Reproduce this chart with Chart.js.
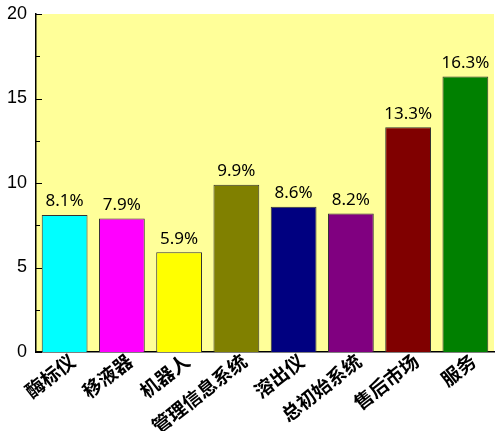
<!DOCTYPE html>
<html>
<head>
<meta charset="utf-8">
<script src="https://cdn.jsdelivr.net/npm/chart.js@4/dist/chart.umd.min.js"></script>
<style>
  html, body { margin: 0; padding: 0; background: #fff; }
  #wrap { width: 500px; height: 431px; }
</style>
</head>
<body>
<div id="wrap"><canvas id="chart" width="500" height="431"></canvas></div>
<script>
/* data */
const categories = ["酶标仪", "移液器", "机器人", "管理信息系统", "溶出仪", "总初始系统", "售后市场", "服务"];
const shares = [8.1, 7.9, 5.9, 9.9, 8.6, 8.2, 13.3, 16.3];
const yTicks = [0, 5, 10, 15, 20];
const barColors = ["#00FFFF", "#FF00FF", "#FFFF00", "#808000", "#000080", "#800080", "#800000", "#008000"];

/* yellow plot background */
const plotBg = {
  id: "plotBg",
  beforeDraw(chart) {
    const a = chart.chartArea;
    const ctx = chart.ctx;
    ctx.save();
    ctx.fillStyle = "#FFFF99";
    ctx.fillRect(a.left, a.top, a.right - a.left, a.bottom - a.top);
    ctx.restore();
  }
};

/* inward ticks on the y axis, major every 5, minor every 2.5 */
const innerTicks = {
  id: "innerTicks",
  afterDraw(chart) {
    const y = chart.scales.y;
    const ctx = chart.ctx;
    const x0 = chart.chartArea.left;
    ctx.save();
    ctx.strokeStyle = "#000";
    ctx.lineWidth = 1;
    for (let v = 0; v <= 20; v += 2.5) {
      const py = Math.round(y.getPixelForValue(v)) + 0.5;
      const len = v % 5 === 0 ? 6 : 4;
      ctx.beginPath();
      ctx.moveTo(x0, py);
      ctx.lineTo(x0 + len, py);
      ctx.stroke();
    }
    ctx.restore();
  }
};

/* rotated category labels, top-right corner pinned near the tick */
const xLabels = {
  id: "xLabels",
  afterDraw(chart) {
    const x = chart.scales.x;
    const ctx = chart.ctx;
    const base = chart.chartArea.bottom;
    ctx.save();
    ctx.font = "bold 19px 'Noto Sans CJK SC'";
    ctx.fillStyle = "#000";
    ctx.textAlign = "right";
    ctx.textBaseline = "top";
    categories.forEach((c, i) => {
      const px = x.getPixelForValue(i);
      ctx.save();
      ctx.translate(px + 2, base - 1);
      ctx.rotate(-38 * Math.PI / 180);
      ctx.fillText(c, 0, 0);
      ctx.restore();
    });
    ctx.restore();
  }
};

/* value labels above bars */
const valueLabels = {
  id: "valueLabels",
  afterDatasetsDraw(chart) {
    const ctx = chart.ctx;
    const meta = chart.getDatasetMeta(0);
    ctx.save();
    ctx.font = "17px 'Noto Sans'";
    ctx.fillStyle = "#000";
    ctx.textAlign = "center";
    ctx.textBaseline = "bottom";
    meta.data.forEach((bar, i) => {
      ctx.fillText(shares[i].toFixed(1) + "%", bar.x, bar.y - 5);
    });
    ctx.restore();
  }
};

new Chart(document.getElementById("chart"), {
  type: "bar",
  data: {
    labels: categories,
    datasets: [{
      data: shares,
      backgroundColor: barColors,
      borderColor: "#333333",
      borderWidth: 1,
      barPercentage: 0.8,
      categoryPercentage: 1.0
    }]
  },
  options: {
    responsive: false,
    animation: false,
    layout: { padding: { top: 14, right: 6, left: 0, bottom: 0 } },
    plugins: {
      legend: { display: false },
      tooltip: { enabled: false }
    },
    scales: {
      x: {
        grid: { display: false },
        border: { display: true, color: "#000", width: 1.5 },
        ticks: { display: false },
        afterFit(scale) { scale.height = 79; }
      },
      y: {
        min: 0,
        max: 20,
        grid: { display: false, drawTicks: false },
        border: { display: true, color: "#000", width: 1.5 },
        ticks: {
          color: "#000",
          font: { family: "'Liberation Sans'", size: 18 },
          padding: 9,
          stepSize: 5,
          callback: v => yTicks.includes(v) ? v : ""
        },
        afterFit(scale) {
          scale.width = 36;
          scale.paddingTop = 0;
          scale.paddingBottom = 0;
        }
      }
    }
  },
  plugins: [plotBg, innerTicks, xLabels, valueLabels]
});
</script>
</body>
</html>
